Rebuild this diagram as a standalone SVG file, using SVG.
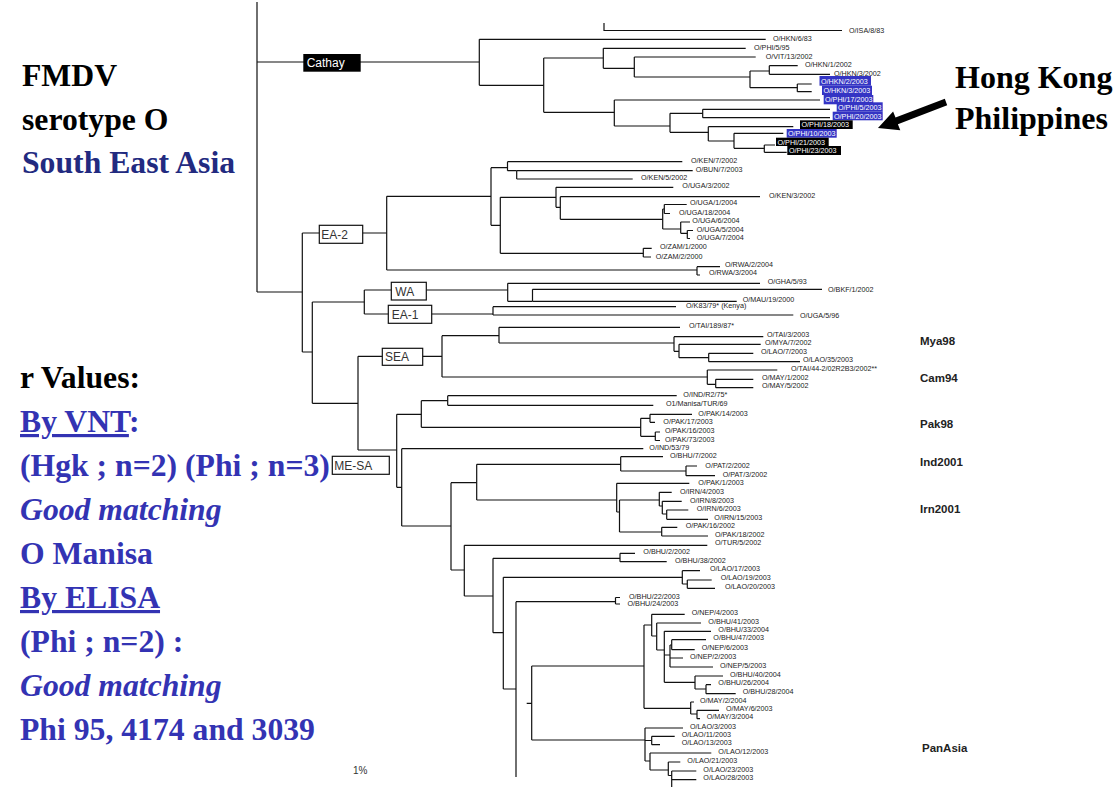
<svg xmlns="http://www.w3.org/2000/svg" width="1118" height="789" viewBox="0 0 1118 789">
<style>
.b{fill:none;stroke:#111;stroke-width:1.2}
.l{font-family:"Liberation Sans",Arial,sans-serif;font-size:7.2px;fill:#222}
.lw{font-family:"Liberation Sans",Arial,sans-serif;font-size:7.2px;fill:#fff}
.bl{fill:#3434c4}
.bk{fill:#000}
.cb{fill:#fff;stroke:#111;stroke-width:1.2}
.ct{font-family:"Liberation Sans",Arial,sans-serif;font-size:12px;fill:#333}
.gr{font-family:"Liberation Sans",Arial,sans-serif;font-size:11.5px;font-weight:bold;fill:#222}
.big{font-family:"Liberation Serif","Times New Roman",serif;font-size:31.7px;font-weight:bold}
.hk{font-family:"Liberation Serif","Times New Roman",serif;font-size:32px;font-weight:bold;fill:#000}
.blue{fill:#3333b3}
</style>
<rect width="1118" height="789" fill="#fff"/>

<g id="connectors" class="b">
<path d="M257 2 V292 M257 62 H479.3 M257 292 H302.3"/>
<path d="M604 23 V30.5 H842"/>
<path d="M479.3 39.3 V85.3 M479.3 39.3 H765.7 M479.3 85.3 H543.7"/>
<path d="M543.7 58 V112.3 M543.7 58 H603.3 M543.7 112.3 H614.3"/>
<path d="M603.3 48.3 V68.3 M603.3 48.3 H745.7 M603.3 68.3 H634.3"/>
<path d="M634.3 57 V77 M634.3 57 H755.7 M634.3 77 H750"/>
<path d="M750 71 V87.7 M750 71 H769.3 M750 87.7 H797.3"/>
<path d="M769.3 65.7 V74.3 M769.3 65.7 H797.7 M769.3 74.3 H830"/>
<path d="M797.3 84 V91.7 M797.3 84 H811.7 M797.3 91.7 H811.7"/>
<path d="M614.3 100 V126 M614.3 100 H820 M614.3 126 H670"/>
<path d="M670 113.3 V132.3 M670 113.3 H702.7 M670 132.3 H708.3"/>
<path d="M702.7 109.3 V117.7 M702.7 109.3 H830 M702.7 117.7 H830"/>
<path d="M708.3 126.7 V141 M708.3 126.7 H793.3 M708.3 141 H734"/>
<path d="M734 133.3 V148.3 M734 133.3 H783.3 M734 148.3 H764.3"/>
<path d="M764.3 145 V152.3 M764.3 145 H775 M764.3 152.3 H786.7"/>
<path d="M302.3 233 V352 M302.3 233 H386.7 M302.3 352 H312.3"/>
<path d="M386.7 196.3 V270 M386.7 196.3 H491 M386.7 270 H697"/>
<path d="M491 167.7 V225.3 M491 167.7 H507.5 M491 225.3 H500.3"/>
<path d="M507.5 161.7 V170.7 M507.5 161.7 H682.3 M507.5 170.7 H516.7"/>
<path d="M516.7 170.7 V179 M516.7 170.7 H692.7 M516.7 179 H632.7"/>
<path d="M500.3 197.3 V253.3 M500.3 197.3 H556 M500.3 253.3 H643.3"/>
<path d="M556 187.3 V207.3 M556 187.3 H673.3 M556 207.3 H560.3"/>
<path d="M560.3 196.7 V219.3 M560.3 196.7 H760 M560.3 219.3 H662.7"/>
<path d="M662.7 209 V229 M662.7 209 H664.3 M662.7 229 H680.7"/>
<path d="M664.3 204.5 V213.5 M664.3 204.5 H686.7 M664.3 213.5 H670"/>
<path d="M680.7 222 V233.3 M680.7 222 H690 M680.7 233.3 H687.3"/>
<path d="M687.3 230.5 V238.5 M687.3 230.5 H693 M687.3 238.5 H690"/>
<path d="M643.3 248.3 V257 M643.3 248.3 H651.7 M643.3 257 H651"/>
<path d="M697 266.7 V275 M697 266.7 H720 M697 275 H700"/>
<path d="M312.3 302 V403.3 M312.3 302 H364.3 M312.3 403.3 H358"/>
<path d="M364.3 290 V314 M364.3 290 H507.7 M364.3 314 H493"/>
<path d="M507.7 283.3 V301.3 M507.7 283.3 H760 M507.7 301.3 H532.5"/>
<path d="M532.5 289.3 V301.3 M532.5 289.3 H822 M532.5 301.3 H736.7"/>
<path d="M493 306.7 V315 M493 306.7 H676 M493 315 H793.3"/>
<path d="M358 356.3 V450 M358 356.3 H442 M358 450 H396.7"/>
<path d="M442 335.7 V377 M442 335.7 H499 M442 377 H707.3"/>
<path d="M499 327.3 V343 M499 327.3 H680 M499 343 H674"/>
<path d="M674 336.7 V351.3 M674 336.7 H763.3 M674 351.3 H679"/>
<path d="M679 344.3 V357.7 M679 344.3 H760.7 M679 357.7 H708.7"/>
<path d="M708.7 353.3 V361.7 M708.7 353.3 H753.3 M708.7 361.7 H800"/>
<path d="M707.3 370 V384.3 M707.3 370 H777.3 M707.3 384.3 H715.7"/>
<path d="M715.7 379.3 V387.7 M715.7 379.3 H753.3 M715.7 387.7 H753.3"/>
<path d="M396.7 414.3 V487.3 M396.7 414.3 H421.3 M396.7 487.3 H401.7"/>
<path d="M421.3 400.7 V427.3 M421.3 400.7 H447.7 M421.3 427.3 H640.7"/>
<path d="M447.7 395.7 V405.3 M447.7 395.7 H676.7 M447.7 405.3 H653.3"/>
<path d="M640.7 418.3 V436.3 M640.7 418.3 H650 M640.7 436.3 H655.3"/>
<path d="M650 414.3 V422.3 M650 414.3 H692 M650 422.3 H655"/>
<path d="M655.3 432 V440.5 M655.3 432 H660 M655.3 440.5 H660"/>
<path d="M401.7 448.7 V526 M401.7 448.7 H643.3 M401.7 526 H451"/>
<path d="M451 482.7 V570 M451 482.7 H476.7 M451 570 H464.3"/>
<path d="M476.7 464.3 V500 M476.7 464.3 H620.7 M476.7 500 H616.7"/>
<path d="M620.7 456.7 V471 M620.7 456.7 H663 M620.7 471 H686"/>
<path d="M686 466 V475.7 M686 466 H697 M686 475.7 H715"/>
<path d="M616.7 483.3 V512 M616.7 483.3 H689.3 M616.7 512 H619.5"/>
<path d="M619.5 500 V532 M619.5 500 H659.3 M619.5 532 H661.7"/>
<path d="M659.3 492.3 V506 M659.3 492.3 H671.7 M659.3 506 H662.3"/>
<path d="M662.3 501.3 V514 M662.3 501.3 H681.7 M662.3 514 H666.7"/>
<path d="M666.7 510 V519.3 M666.7 510 H688.3 M666.7 519.3 H708"/>
<path d="M661.7 527.3 V536 M661.7 527.3 H677.3 M661.7 536 H708"/>
<path d="M464.3 545.3 V596 M464.3 545.3 H707.3 M464.3 596 H493"/>
<path d="M493 558.3 V632.7 M493 558.3 H620 M493 632.7 H503.3"/>
<path d="M620 553.3 V561.7 M620 553.3 H635 M620 561.7 H666.7"/>
<path d="M503.3 577.3 V689 M503.3 577.3 H682.3 M503.3 689 H516"/>
<path d="M682.3 570.7 V584 M682.3 570.7 H700 M682.3 584 H687.3"/>
<path d="M687.3 580 V588.3 M687.3 580 H711.7 M687.3 588.3 H715"/>
<path d="M516 601.7 V777 M516 601.7 H615.5"/>
<path d="M615.5 597.5 V604 M615.5 597.5 H620 M615.5 604 H620"/>
<path d="M526.7 703.3 H531.7 M531.7 666 V740 M531.7 666 H644 M531.7 740 H645"/>
<path d="M644 625 V708.3 M644 625 H651.7 M644 708.3 H690.7"/>
<path d="M651.7 614.3 V636 M651.7 614.3 H684.7 M651.7 636 H656.7"/>
<path d="M656.7 623 V650 M656.7 623 H701 M656.7 650 H664.3"/>
<path d="M664.3 631.3 V682.3 M664.3 631.3 H711 M664.3 655 H670 M664.3 682.3 H695"/>
<path d="M670 645 V667 M670 645 H671.7 M670 658 H683 M670 667 H713"/>
<path d="M671.7 639.7 V649.7 M671.7 639.7 H706 M671.7 649.7 H694.7"/>
<path d="M695 676 V689 M695 676 H723 M695 689 H706"/>
<path d="M706 684.7 V693.7 M706 684.7 H711 M706 693.7 H735.7"/>
<path d="M690.7 702 V714 M690.7 702 H694 M690.7 714 H697"/>
<path d="M697 710.3 V718.7 M697 710.3 H719 M697 718.7 H700"/>
<path d="M645 728 V761 M645 728 H683 M645 740.5 H651.7 M645 761 H650"/>
<path d="M651.7 736.3 V744.7 M651.7 736.3 H674.7 M651.7 744.7 H660"/>
<path d="M650 753 V770 M650 753 H711.3 M650 770 H668.3"/>
<path d="M668.3 762 V775.5 M668.3 762 H680.3 M668.3 775.5 H671.7"/>
<path d="M671.7 771 V787 M671.7 771 H696.3 M671.7 779.7 H696.3"/>
</g>

<g id="clade-cathay"><rect class="bk" x="303.3" y="54" width="57.4" height="17.7"/><text x="306.7" y="67.3" class="ct" style="fill:#fff">Cathay</text></g>
<g id="clade-ea2"><rect class="cb" x="319.3" y="225.3" width="43.4" height="18"/><text x="321.3" y="238.5" class="ct">EA-2</text></g>
<g id="clade-wa"><rect class="cb" x="391.3" y="282.3" width="35" height="17.7"/><text x="395.3" y="295.5" class="ct">WA</text></g>
<g id="clade-ea1"><rect class="cb" x="388.3" y="305.3" width="43.4" height="18"/><text x="391.7" y="318.5" class="ct">EA-1</text></g>
<g id="clade-sea"><rect class="cb" x="382.3" y="348.3" width="40.4" height="17"/><text x="385" y="361" class="ct">SEA</text></g>
<g id="clade-mesa"><rect class="cb" x="332.3" y="456.3" width="57" height="18"/><text x="334.3" y="469.5" class="ct">ME-SA</text></g>

<g id="leaf-ISA-8-83"><text class="l" x="849" y="32.5">O/ISA/8/83</text></g>
<g id="leaf-HKN-6-83"><text class="l" x="773" y="41">O/HKN/6/83</text></g>
<g id="leaf-PHI-5-95"><text class="l" x="754" y="50">O/PHI/5/95</text></g>
<g id="leaf-VIT-13-2002"><text class="l" x="765.7" y="58.7">O/VIT/13/2002</text></g>
<g id="leaf-HKN-1-2002"><text class="l" x="805" y="67">O/HKN/1/2002</text></g>
<g id="leaf-HKN-3-2002"><text class="l" x="834" y="76">O/HKN/3/2002</text></g>
<g id="leaf-HKN-2-2003"><rect class="bl" x="819.5" y="76" width="51.5" height="9.7"/><text class="lw" x="821" y="83.8">O/HKN/2/2003</text></g>
<g id="leaf-HKN-3-2003"><rect class="bl" x="822" y="85.7" width="50" height="9.3"/><text class="lw" x="823.5" y="93">O/HKN/3/2003</text></g>
<g id="leaf-PHI-17-2003"><rect class="bl" x="823.7" y="95" width="49.6" height="9.3"/><text class="lw" x="825" y="102.3">O/PHI/17/2003</text></g>
<g id="leaf-PHI-5-2003"><rect class="bl" x="836.7" y="102.3" width="46" height="9.4"/><text class="lw" x="838" y="109.8">O/PHI/5/2003</text></g>
<g id="leaf-PHI-20-2003"><rect class="bl" x="832.7" y="111.7" width="50" height="8.6"/><text class="lw" x="834" y="118.5">O/PHI/20/2003</text></g>
<g id="leaf-PHI-18-2003"><rect class="bk" x="800" y="120.3" width="52.7" height="8.7"/><text class="lw" x="801.5" y="127.3">O/PHI/18/2003</text></g>
<g id="leaf-PHI-10-2003"><rect class="bl" x="786.7" y="129" width="50" height="8.7"/><text class="lw" x="788" y="136">O/PHI/10/2003</text></g>
<g id="leaf-PHI-21-2003"><rect class="bk" x="776" y="137.7" width="52.7" height="8.3"/><text class="lw" x="777.5" y="144.5">O/PHI/21/2003</text></g>
<g id="leaf-PHI-23-2003"><rect class="bk" x="787.3" y="146" width="53.7" height="9"/><text class="lw" x="789" y="153.3">O/PHI/23/2003</text></g>

<g id="leaf-KEN-7-2002"><text class="l" x="691" y="163.3">O/KEN/7/2002</text></g>
<g id="leaf-BUN-7-2003"><text class="l" x="695.7" y="171.7">O/BUN/7/2003</text></g>
<g id="leaf-KEN-5-2002"><text class="l" x="641" y="179.7">O/KEN/5/2002</text></g>
<g id="leaf-UGA-3-2002"><text class="l" x="682.3" y="187.7">O/UGA/3/2002</text></g>
<g id="leaf-KEN-3-2002"><text class="l" x="769" y="197.7">O/KEN/3/2002</text></g>
<g id="leaf-UGA-1-2004"><text class="l" x="690" y="205.4">O/UGA/1/2004</text></g>
<g id="leaf-UGA-18-2004"><text class="l" x="679" y="214.7">O/UGA/18/2004</text></g>
<g id="leaf-UGA-6-2004"><text class="l" x="692.3" y="223.4">O/UGA/6/2004</text></g>
<g id="leaf-UGA-5-2004"><text class="l" x="696.7" y="231.7">O/UGA/5/2004</text></g>
<g id="leaf-UGA-7-2004"><text class="l" x="696.7" y="240">O/UGA/7/2004</text></g>
<g id="leaf-ZAM-1-2000"><text class="l" x="660" y="249.4">O/ZAM/1/2000</text></g>
<g id="leaf-ZAM-2-2000"><text class="l" x="655.7" y="258.7">O/ZAM/2/2000</text></g>
<g id="leaf-RWA-2-2004"><text class="l" x="725" y="267.4">O/RWA/2/2004</text></g>
<g id="leaf-RWA-3-2004"><text class="l" x="709" y="275.4">O/RWA/3/2004</text></g>
<g id="leaf-GHA-5-93"><text class="l" x="767.7" y="284.4">O/GHA/5/93</text></g>
<g id="leaf-BKF-1-2002"><text class="l" x="828" y="291.5">O/BKF/1/2002</text></g>
<g id="leaf-MAU-19-2000"><text class="l" x="742.7" y="302">O/MAU/19/2000</text></g>
<g id="leaf-K83-79"><text class="l" x="686" y="308.4">O/K83/79*  (Kenya)</text></g>
<g id="leaf-UGA-5-96"><text class="l" x="800" y="318.4">O/UGA/5/96</text></g>

<g id="leaf-TAI-189-87"><text class="l" x="689" y="327.7">O/TAI/189/87*</text></g>
<g id="leaf-TAI-3-2003"><text class="l" x="767" y="336.9">O/TAI/3/2003</text></g>
<g id="leaf-MYA-7-2002"><text class="l" x="765" y="345.4">O/MYA/7/2002</text></g>
<g id="leaf-LAO-7-2003"><text class="l" x="761" y="354.4">O/LAO/7/2003</text></g>
<g id="leaf-LAO-35-2003"><text class="l" x="803" y="362.4">O/LAO/35/2003</text></g>
<g id="leaf-TAI-44-2"><text class="l" x="791" y="371">O/TAI/44-2/02R2B3/2002**</text></g>
<g id="leaf-MAY-1-2002"><text class="l" x="762" y="380.4">O/MAY/1/2002</text></g>
<g id="leaf-MAY-5-2002"><text class="l" x="762" y="388.4">O/MAY/5/2002</text></g>

<g id="leaf-IND-R2-75"><text class="l" x="683.3" y="397">O/IND/R2/75*</text></g>
<g id="leaf-O1-Manisa"><text class="l" x="666" y="406.4">O1/Manisa/TUR/69</text></g>
<g id="leaf-PAK-14-2003"><text class="l" x="698.3" y="415.7">O/PAK/14/2003</text></g>
<g id="leaf-PAK-17-2003"><text class="l" x="663.3" y="424">O/PAK/17/2003</text></g>
<g id="leaf-PAK-16-2003"><text class="l" x="665" y="432.7">O/PAK/16/2003</text></g>
<g id="leaf-PAK-73-2003"><text class="l" x="665" y="441.7">O/PAK/73/2003</text></g>
<g id="leaf-IND-53-79"><text class="l" x="649.3" y="450">O/IND/53/79</text></g>
<g id="leaf-BHU-7-2002"><text class="l" x="670" y="458.4">O/BHU/7/2002</text></g>
<g id="leaf-PAT-2-2002"><text class="l" x="705.3" y="467.7">O/PAT/2/2002</text></g>
<g id="leaf-PAT-3-2002"><text class="l" x="722.7" y="476.7">O/PAT/3/2002</text></g>
<g id="leaf-PAK-1-2003"><text class="l" x="698.3" y="484.7">O/PAK/1/2003</text></g>
<g id="leaf-IRN-4-2003"><text class="l" x="680" y="493.7">O/IRN/4/2003</text></g>
<g id="leaf-IRN-8-2003"><text class="l" x="690" y="502.7">O/IRN/8/2003</text></g>
<g id="leaf-IRN-6-2003"><text class="l" x="696.7" y="510.7">O/IRN/6/2003</text></g>
<g id="leaf-IRN-15-2003"><text class="l" x="714.3" y="519.7">O/IRN/15/2003</text></g>
<g id="leaf-PAK-16-2002"><text class="l" x="685.7" y="528.4">O/PAK/16/2002</text></g>
<g id="leaf-PAK-18-2002"><text class="l" x="715" y="536.7">O/PAK/18/2002</text></g>
<g id="leaf-TUR-5-2002"><text class="l" x="715" y="545.4">O/TUR/5/2002</text></g>
<g id="leaf-BHU-2-2002"><text class="l" x="643.3" y="554.4">O/BHU/2/2002</text></g>
<g id="leaf-BHU-38-2002"><text class="l" x="675" y="562.7">O/BHU/38/2002</text></g>
<g id="leaf-LAO-17-2003"><text class="l" x="710" y="571.4">O/LAO/17/2003</text></g>
<g id="leaf-LAO-19-2003"><text class="l" x="720.7" y="580.4">O/LAO/19/2003</text></g>
<g id="leaf-LAO-20-2003"><text class="l" x="725" y="589.4">O/LAO/20/2003</text></g>
<g id="leaf-BHU-22-2003"><text class="l" x="629" y="598.5">O/BHU/22/2003</text></g>
<g id="leaf-BHU-24-2003"><text class="l" x="627.5" y="606">O/BHU/24/2003</text></g>
<g id="leaf-NEP-4-2003"><text class="l" x="691.7" y="615">O/NEP/4/2003</text></g>
<g id="leaf-BHU-41-2003"><text class="l" x="708.3" y="623.7">O/BHU/41/2003</text></g>
<g id="leaf-BHU-33-2004"><text class="l" x="718.3" y="632">O/BHU/33/2004</text></g>
<g id="leaf-BHU-47-2003"><text class="l" x="713.3" y="640.4">O/BHU/47/2003</text></g>
<g id="leaf-NEP-6-2003"><text class="l" x="701.7" y="650.4">O/NEP/6/2003</text></g>
<g id="leaf-NEP-2-2003"><text class="l" x="690" y="658.7">O/NEP/2/2003</text></g>
<g id="leaf-NEP-5-2003"><text class="l" x="720" y="667.7">O/NEP/5/2003</text></g>
<g id="leaf-BHU-40-2004"><text class="l" x="730" y="676.7">O/BHU/40/2004</text></g>
<g id="leaf-BHU-26-2004"><text class="l" x="718.3" y="685.4">O/BHU/26/2004</text></g>
<g id="leaf-BHU-28-2004"><text class="l" x="742.7" y="694.4">O/BHU/28/2004</text></g>
<g id="leaf-MAY-2-2004"><text class="l" x="700" y="702.7">O/MAY/2/2004</text></g>
<g id="leaf-MAY-6-2003"><text class="l" x="726" y="711">O/MAY/6/2003</text></g>
<g id="leaf-MAY-3-2004"><text class="l" x="706.7" y="719.4">O/MAY/3/2004</text></g>
<g id="leaf-LAO-3-2003"><text class="l" x="690" y="728.7">O/LAO/3/2003</text></g>
<g id="leaf-LAO-11-2003"><text class="l" x="681.7" y="737">O/LAO/11/2003</text></g>
<g id="leaf-LAO-13-2003"><text class="l" x="681.7" y="745.4">O/LAO/13/2003</text></g>
<g id="leaf-LAO-12-2003"><text class="l" x="718.3" y="753.7">O/LAO/12/2003</text></g>
<g id="leaf-LAO-21-2003"><text class="l" x="687.3" y="762.7">O/LAO/21/2003</text></g>
<g id="leaf-LAO-23-2003"><text class="l" x="703.3" y="771.7">O/LAO/23/2003</text></g>
<g id="leaf-LAO-28-2003"><text class="l" x="703.3" y="780.4">O/LAO/28/2003</text></g>

<g id="groups">
<text class="gr" x="920" y="345">Mya98</text>
<text class="gr" x="920" y="382">Cam94</text>
<text class="gr" x="920" y="428">Pak98</text>
<text class="gr" x="920" y="466">Ind2001</text>
<text class="gr" x="920" y="513">Irn2001</text>
<text class="gr" x="922" y="752">PanAsia</text>
</g>

<g id="scale"><text x="353" y="774" style="font-family:'Liberation Sans',Arial,sans-serif;font-size:10px;fill:#333">1%</text></g>

<g id="arrow"><polygon points="944.8,98.7 947.2,105.3 897.9,124.2 900.3,130.2 878,128 893.1,111.6 895.5,117.6" fill="#000"/></g>
<g id="title-right">
<text class="hk" x="955" y="88">Hong Kong</text>
<text class="hk" x="955" y="129">Philippines</text>
</g>

<g id="title-left">
<text class="big" x="22" y="86" fill="#000">FMDV</text>
<text class="big" x="22" y="130" fill="#000">serotype O</text>
<text class="big" x="22" y="173" fill="#222a80">South East Asia</text>
</g>

<g id="r-values">
<text class="big" x="20" y="388" fill="#000">r Values:</text>
<text class="big blue" x="20" y="432"><tspan text-decoration="underline">By VNT</tspan>:</text>
<text class="big blue" x="20" y="476">(Hgk ; n=2) (Phi ; n=3)</text>
<text class="big blue" x="20" y="520" font-style="italic">Good matching</text>
<text class="big blue" x="20" y="564">O Manisa</text>
<text class="big blue" x="20" y="608" text-decoration="underline">By ELISA</text>
<text class="big blue" x="20" y="652">(Phi ; n=2) :</text>
<text class="big blue" x="20" y="696" font-style="italic">Good matching</text>
<text class="big blue" x="20" y="740">Phi 95, 4174 and 3039</text>
</g>
</svg>
